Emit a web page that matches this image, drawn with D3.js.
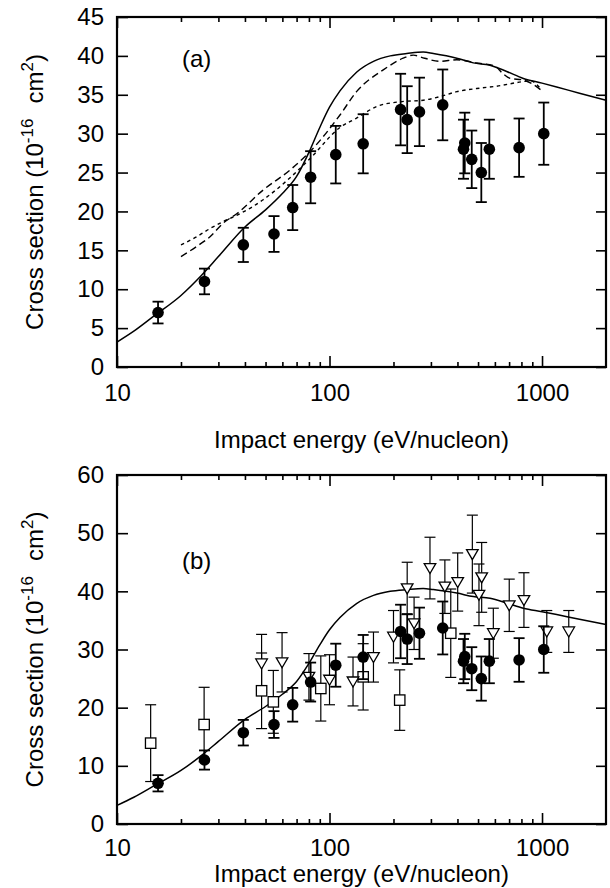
<!DOCTYPE html>
<html>
<head>
<meta charset="utf-8">
<script src="https://cdn.jsdelivr.net/npm/d3@7"></script>
<style>
  body { margin: 0; background: #fff; }
  svg text { font-family: "Liberation Sans", Arial, Helvetica, sans-serif; fill: #000; }
</style>
</head>
<body>
<svg id="chart" width="610" height="888"></svg>
<script>
// measured cross sections (filled circles), used in both panels
const expE     = [15.6, 25.8, 39.3, 54.8, 67.1, 81.5, 107, 144, 216, 232, 265, 341, 427, 433, 467, 518, 565, 780, 1019];
const expSigma = [7.0, 11.0, 15.7, 17.1, 20.5, 24.4, 27.3, 28.7, 33.1, 31.8, 32.8, 33.7, 28.0, 28.8, 26.7, 25.0, 28.0, 28.2, 30.0];
const expErr   = [1.4, 1.65, 2.2, 2.3, 2.9, 3.35, 3.7, 3.8, 4.6, 4.3, 4.4, 4.55, 3.8, 3.9, 3.7, 3.8, 3.8, 3.75, 4.0];

// other measurements, panel (b): open squares
const sqE     = [14.4, 25.7, 47.9, 54.4, 91, 144, 214, 372];
const sqSigma = [13.9, 17.1, 22.9, 21.0, 23.3, 25.3, 21.3, 32.8];
const sqErr   = [6.6, 6.4, 6.5, 5.4, 5.6, 5.7, 5.2, 7.6];

// panel (b): open down triangles
const triE     = [47.9, 59.8, 80, 100, 129, 161, 200, 232, 250, 297, 349, 401, 470, 505, 520, 590, 701, 822, 1053, 1336];
const triSigma = [27.6, 27.8, 25.3, 24.8, 24.5, 28.7, 32.2, 40.5, 34.5, 44.0, 40.8, 41.6, 46.4, 39.4, 42.4, 32.8, 37.6, 38.5, 33.1, 33.1];
const triErr   = [5.0, 5.1, 4.0, 4.3, 4.2, 4.3, 4.5, 4.5, 4.5, 5.3, 4.6, 5.0, 6.7, 5.3, 6.0, 4.3, 4.5, 4.7, 3.6, 3.6];

// theory curves
const solidE = [10, 12, 15, 20, 25, 30, 40, 50, 60, 70, 80, 90, 100, 112, 134, 161, 193, 231, 276, 308, 397, 475, 569, 682, 817, 1000, 1172, 1500, 2000];
const solidS = [3.2, 4.6, 6.6, 9.2, 11.8, 14.2, 18.0, 20.2, 22.3, 24.5, 27.6, 30.8, 33.4, 35.5, 37.9, 39.3, 40.0, 40.3, 40.5, 40.3, 39.7, 39.1, 38.8, 38.0, 37.1, 36.5, 36.0, 35.2, 34.3];

const longE = [20, 23.7, 27.4, 31.6, 36.6, 48.7, 65, 81, 112, 134, 179, 222, 248, 280, 330, 397, 492, 600, 650, 709, 817, 900, 990];
const longS = [14.2, 15.5, 16.75, 18.5, 19.7, 22.75, 25.3, 27.7, 32.4, 35.4, 38.2, 39.7, 40.1, 39.7, 39.3, 39.5, 39.1, 38.7, 37.8, 37.1, 36.9, 36.4, 35.6];

const shortE = [20, 23.7, 27.4, 31.6, 36.6, 48.7, 65, 81, 112, 134, 167, 214, 276, 330, 397, 492, 611, 817, 880, 990];
const shortS = [15.7, 16.75, 17.8, 18.7, 19.5, 21.5, 24.3, 26.8, 30.8, 32.0, 33.5, 34.1, 34.3, 34.75, 35.4, 35.8, 36.1, 36.7, 36.8, 35.7];

const xMajor = [10, 100, 1000];
const xMinor = [20, 30, 40, 50, 60, 70, 80, 90, 200, 300, 400, 500, 600, 700, 800, 900];

const svg = d3.select("#chart");
const left = 117, right = 606;
const FS = 24;

const zip = (a, b) => a.map((v, i) => [v, b[i]]);

function drawPanel(top, bottom, yMax, yStep, tag, tagY, withOthers, labelPad) {
    const x = d3.scaleLog().domain([10, 2000]).range([left, right]);
    const y = d3.scaleLinear().domain([0, yMax]).range([bottom, top]);
    const g = svg.append("g");
    const yTicks = d3.range(0, yMax + 0.01, yStep);

    // bottom axis, major + minor
    g.append("g").attr("transform", `translate(0,${bottom})`)
        .call(d3.axisBottom(x).tickValues(xMajor).tickSize(-11).tickPadding(labelPad).tickFormat(d3.format("d")));
    g.append("g").attr("transform", `translate(0,${bottom})`)
        .call(d3.axisBottom(x).tickValues(xMinor).tickSize(-5).tickFormat(""));
    // top axis
    g.append("g").attr("transform", `translate(0,${top})`)
        .call(d3.axisTop(x).tickValues(xMajor).tickSize(-11).tickFormat(""));
    g.append("g").attr("transform", `translate(0,${top})`)
        .call(d3.axisTop(x).tickValues(xMinor).tickSize(-5).tickFormat(""));
    // left / right
    g.append("g").attr("transform", `translate(${left},0)`)
        .call(d3.axisLeft(y).tickValues(yTicks).tickSize(-11).tickPadding(13).tickFormat(d3.format("d")));
    g.append("g").attr("transform", `translate(${right},0)`)
        .call(d3.axisRight(y).tickValues(yTicks).tickSize(-10).tickFormat(""));

    g.selectAll(".domain").remove();
    g.selectAll(".tick line").attr("stroke", "#000").attr("stroke-width", 1.6);
    g.selectAll(".tick text").style("font-size", FS + "px").attr("fill", "#000");

    // frame
    g.append("rect")
        .attr("x", left).attr("y", top)
        .attr("width", right - left).attr("height", bottom - top)
        .attr("fill", "none").attr("stroke", "#000").attr("stroke-width", 2.2);

    const line = d3.line().x(d => x(d[0])).y(d => y(d[1])).curve(d3.curveMonotoneX);

    g.append("path").datum(zip(solidE, solidS)).attr("d", line)
        .attr("fill", "none").attr("stroke", "#000").attr("stroke-width", 1.5);

    if (!withOthers) {
        g.append("path").datum(zip(longE, longS)).attr("d", line)
            .attr("fill", "none").attr("stroke", "#000").attr("stroke-width", 1.4)
            .attr("stroke-dasharray", "7,4");
        g.append("path").datum(zip(shortE, shortS)).attr("d", line)
            .attr("fill", "none").attr("stroke", "#000").attr("stroke-width", 1.4)
            .attr("stroke-dasharray", "3.5,3.5");
    }

    const errBars = (E, S, Er, w) => {
        const eb = g.append("g").attr("stroke", "#000").attr("stroke-width", w).attr("fill", "none");
        E.forEach((e, i) => {
            const cx = x(e), y1 = y(S[i] + Er[i]), y2 = y(S[i] - Er[i]);
            eb.append("line").attr("x1", cx).attr("x2", cx).attr("y1", y1).attr("y2", y2);
            eb.append("line").attr("x1", cx - 5.5).attr("x2", cx + 5.5).attr("y1", y1).attr("y2", y1);
            eb.append("line").attr("x1", cx - 5.5).attr("x2", cx + 5.5).attr("y1", y2).attr("y2", y2);
        });
    };

    if (withOthers) {
        errBars(sqE, sqSigma, sqErr, 1.2);
        errBars(triE, triSigma, triErr, 1.2);
        g.append("g").selectAll("rect").data(zip(sqE, sqSigma)).enter().append("rect")
            .attr("x", d => x(d[0]) - 5.2).attr("y", d => y(d[1]) - 5.2)
            .attr("width", 10.4).attr("height", 10.4)
            .attr("fill", "#fff").attr("stroke", "#000").attr("stroke-width", 1.3);
        g.append("g").selectAll("path").data(zip(triE, triSigma)).enter().append("path")
            .attr("d", d => {
                const cx = x(d[0]), cy = y(d[1]);
                return `M${cx - 5.8},${cy - 4.5}L${cx + 5.8},${cy - 4.5}L${cx},${cy + 5.5}Z`;
            })
            .attr("fill", "#fff").attr("stroke", "#000").attr("stroke-width", 1.3);
    }

    errBars(expE, expSigma, expErr, 1.8);
    g.append("g").selectAll("circle").data(zip(expE, expSigma)).enter().append("circle")
        .attr("cx", d => x(d[0])).attr("cy", d => y(d[1])).attr("r", 5.8).attr("fill", "#000");

    // panel tag
    g.append("text").attr("x", 182).attr("y", tagY).style("font-size", FS + "px").text(tag);

    // y title
    const yt = g.append("text")
        .attr("transform", `translate(43,${(top + bottom) / 2}) rotate(-90)`)
        .attr("text-anchor", "middle")
        .style("font-size", FS + "px");
    yt.append("tspan").text("Cross section (10");
    yt.append("tspan").attr("dy", -10).style("font-size", "17px").text("-16");
    yt.append("tspan").attr("dy", 10).attr("dx", 15).text("cm");
    yt.append("tspan").attr("dy", -10).style("font-size", "17px").text("2");
    yt.append("tspan").attr("dy", 10).text(")");

    return { x, y };
}

drawPanel(17, 367, 45, 5, "(a)", 67, false, 17);
drawPanel(475, 824, 60, 10, "(b)", 569, true, 15);

// x titles
svg.append("text").attr("x", (left + right) / 2).attr("y", 448)
    .attr("text-anchor", "middle").style("font-size", FS + "px")
    .text("Impact energy (eV/nucleon)");
svg.append("text").attr("x", (left + right) / 2).attr("y", 882)
    .attr("text-anchor", "middle").style("font-size", FS + "px")
    .text("Impact energy (eV/nucleon)");
</script>
</body>
</html>
